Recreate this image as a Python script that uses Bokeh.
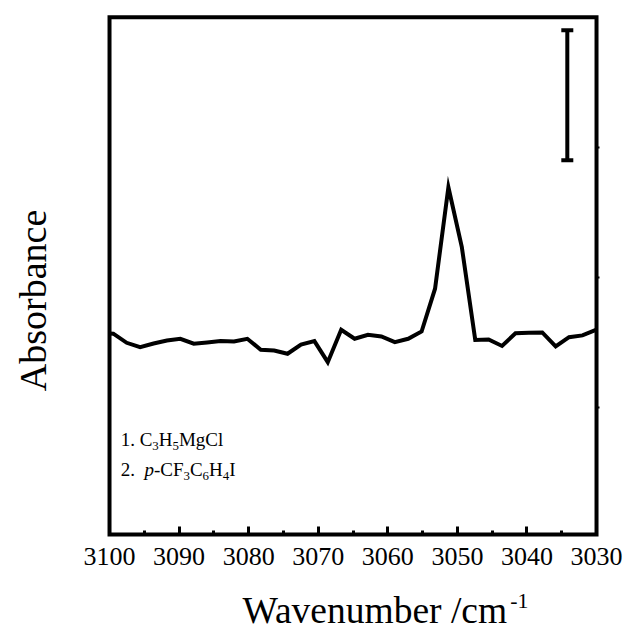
import math
from bokeh.plotting import figure
from bokeh.models import Range1d, LinearAxis, FixedTicker, Label
from bokeh.embed import file_html
from bokeh.resources import INLINE

# ---- data ----
wavenumber = [3100.00, 3099.45, 3097.53, 3095.60, 3093.67, 3091.75, 3089.82, 3087.89,
              3085.97, 3084.04, 3082.11, 3080.19, 3078.26, 3076.33, 3074.41, 3072.48,
              3070.55, 3068.63, 3066.70, 3064.77, 3062.85, 3060.92, 3058.99, 3057.07,
              3055.14, 3053.21, 3051.29, 3049.36, 3047.43, 3045.51, 3043.58, 3041.65,
              3039.73, 3037.80, 3035.87, 3033.95, 3032.02, 3030.09]
absorbance = [1.566, 1.565, 1.495, 1.462, 1.490, 1.513, 1.526, 1.488,
              1.498, 1.508, 1.505, 1.526, 1.442, 1.436, 1.411, 1.482,
              1.508, 1.346, 1.595, 1.526, 1.557, 1.544, 1.500, 1.526,
              1.582, 1.911, 2.692, 2.231, 1.517, 1.521, 1.471, 1.568,
              1.572, 1.575, 1.467, 1.538, 1.552, 1.595]

x_ticks = [3100, 3090, 3080, 3070, 3060, 3050, 3040, 3030]
x_minor_ticks = [3095, 3085, 3075, 3065, 3055, 3045, 3035]
right_ticks = [1, 2, 3]

# plotted box (axis limits)
x_start, x_end = 3100, 3030
y_start, y_end = 0.02, 4.0

scale_bar_x = [3034.2]
scale_bar_bottom = [2.90]
scale_bar_top = [3.90]

FONT = "Liberation Serif"
BASE_FIX = 0.33  # lift applied so that the glyph baseline lands at the anchor

# the frame spans the whole canvas so that the titles (drawn as labels) are not clipped
p = figure(width=637, height=633, output_backend="svg", toolbar_location=None,
           x_range=Range1d(3115.67, 3024.11), y_range=Range1d(-0.741, 4.128),
           x_axis_location=None, y_axis_location=None,
           min_border_left=0, min_border_right=0, min_border_top=0, min_border_bottom=0)
p.background_fill_color = "white"
p.border_fill_color = "white"
p.outline_line_color = None
p.grid.visible = False

xaxis = LinearAxis(ticker=FixedTicker(ticks=x_ticks, minor_ticks=x_minor_ticks),
                   fixed_location=y_start)
xaxis.axis_line_color = None
xaxis.major_tick_in = 8
xaxis.major_tick_out = 0
xaxis.minor_tick_in = 4
xaxis.minor_tick_out = 0
xaxis.major_tick_line_width = 3
xaxis.minor_tick_line_width = 3
xaxis.major_tick_line_color = "black"
xaxis.minor_tick_line_color = "black"
xaxis.major_label_text_font = FONT
xaxis.major_label_text_font_size = "26px"
xaxis.major_label_text_color = "black"
xaxis.major_label_standoff = 13
p.add_layout(xaxis, "below")

raxis = LinearAxis(ticker=FixedTicker(ticks=right_ticks, minor_ticks=[]),
                   fixed_location=x_end)
raxis.axis_line_color = None
raxis.major_tick_in = 0
raxis.major_tick_out = 3
raxis.major_tick_line_width = 2
raxis.major_tick_line_color = "black"
raxis.minor_tick_line_color = None
raxis.major_label_text_font_size = "0px"
raxis.major_label_text_color = None
p.add_layout(raxis, "right")

# box
p.quad(left=[x_start], right=[x_end], bottom=[y_start], top=[y_end],
       fill_color=None, line_color="black", line_width=4, line_join="miter")

p.line(wavenumber, absorbance, line_width=4, line_color="black", line_join="miter")

# scale bar
p.segment(x0=scale_bar_x, y0=scale_bar_bottom, x1=scale_bar_x, y1=scale_bar_top,
          line_width=4, line_color="black")
p.scatter(scale_bar_x * 2, scale_bar_bottom + scale_bar_top, marker="dash", size=12,
          line_width=4, line_color="black")

# Times-metric advance widths (em)
W = {'1': .5, '2': .5, '3': .5, '4': .5, '5': .5, '6': .5, '.': .25, ' ': .25, 'C': .667,
     'H': .722, 'M': .889, 'g': .5, 'l': .278, 'p': .5, '-': .333, 'F': .556, 'I': .333,
     'W': .944, 'a': .444, 'v': .5, 'e': .444, 'n': .5, 'u': .5, 'm': .778, 'b': .5,
     'r': .333, '/': .278, 'c': .444}


def rich(x0, y0, segs, size):
    off = 0.0
    for txt, kind in segs:
        if kind == "gap":
            off += float(txt) * size
            continue
        if kind == "sub":
            fs, dy = size * 0.68, -size * 0.27
        elif kind == "sup":
            fs, dy = size * 0.58, size * 0.40
        else:
            fs, dy = size, 0
        style = "italic" if kind == "it" else "normal"
        p.add_layout(Label(x=x0, y=y0, x_units="data", y_units="data",
                           x_offset=off, y_offset=dy + BASE_FIX * fs, text=txt,
                           text_font=FONT, text_font_size=f"{fs:.1f}px",
                           text_font_style=style, text_color="black",
                           text_align="left", text_baseline="alphabetic"))
        off += sum(W.get(ch, .5) for ch in txt) * fs


rich(3098.4, 0.705, [("1. C", "n"), ("3", "sub"), ("H", "n"), ("5", "sub"), ("MgCl", "n")], 19)
rich(3098.4, 0.475, [("2.", "n"), ("0.5", "gap"), ("p", "it"), ("-CF", "n"), ("3", "sub"),
                     ("C", "n"), ("6", "sub"), ("H", "n"), ("4", "sub"), ("I", "n")], 19)

# axis titles
rich(3080.88, -0.66, [("Wavenumber /cm", "n"), ("-1", "sup")], 37.5)
p.add_layout(Label(x=3109.2, y=1.821, x_units="data", y_units="data", text="Absorbance",
                   x_offset=-BASE_FIX * 38, angle=math.pi / 2, text_font=FONT,
                   text_font_size="38px", text_color="black", text_align="center",
                   text_baseline="alphabetic"))

open("out.html", "w").write(file_html(p, INLINE))
